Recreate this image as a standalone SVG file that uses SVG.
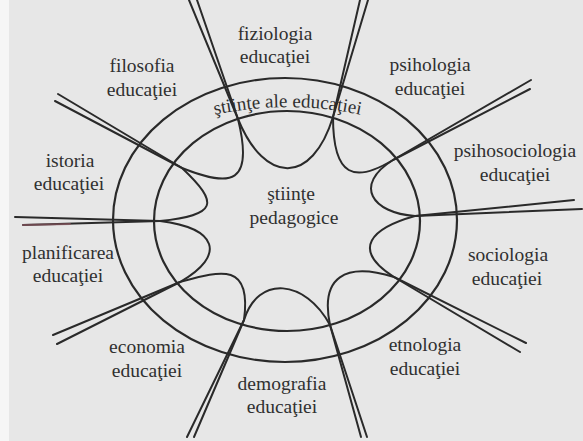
<svg xmlns="http://www.w3.org/2000/svg" width="583" height="441" viewBox="0 0 583 441">
<defs>
<style>
.bg{fill:#e7e7e7}
.ln{fill:none;stroke:#2a2a2a;stroke-width:2;stroke-linejoin:round;stroke-linecap:round}
.el{fill:none;stroke:#2a2a2a;stroke-width:2.2}
.t{font-family:"Liberation Serif","Times New Roman",serif;font-size:19.5px;fill:#303030;text-anchor:middle}
.ta{font-family:"Liberation Serif","Times New Roman",serif;font-size:19px;fill:#303030}
</style>
<path id="arcText" d="M190,121 A350,350 0 0 1 385,121"/>
</defs>
<rect class="bg" x="0" y="0" width="583" height="441"/>
<rect x="0" y="0" width="9" height="441" fill="#f6f6f6"/>

<g id="ring">
<ellipse class="el" cx="285" cy="220" rx="172" ry="142"/>
<ellipse class="el" cx="287" cy="221" rx="133" ry="110"/>
<text class="ta"><textPath href="#arcText" startOffset="50%" text-anchor="middle">ştiinţe ale educaţiei</textPath></text>
</g>

<g id="connectors">
<path class="ln" d="M189,0 L238,119 C265,185 312,185 333,117 L368,0"/>
<path class="ln" d="M360,0 L333,117 C333,178 355,183 393,160 L530,89"/>
<path class="ln" d="M531,80 L393,160 C353,185 372,213 415,216 L582,209"/>
<path class="ln" d="M574,200 L415,216 C372,228 350,249 394,277 L520,352"/>
<path class="ln" d="M526,343 L394,277 C345,262 320,277 330,325 L361,437"/>
<path class="ln" d="M367,437 L330,325 C305,279 258,275 244,320 L187,437"/>
<path class="ln" d="M194,437 L244,320 C252,261 220,271 180,282 L53,335"/>
<path class="ln" d="M57,344 L180,282 C227,255 217,228 160,221 L15,217"/>
<path class="ln" d="M23,225 L160,221 C217,215 220,204 182,168 L58,94"/>
<path class="ln" d="M55,101 L182,168 C232,188 254,184 238,119 L197,0"/>
<path d="M23,225 L70,224" fill="none" stroke="#8a5560" stroke-width="2" stroke-linecap="round" opacity="0.7"/>
</g>

<g id="center"><text class="t" x="291" y="200">ştiinţe</text><text class="t" x="294" y="224">pedagogice</text></g>
<g id="fiziologia"><text class="t" x="275" y="40">fiziologia</text><text class="t" x="275" y="63">educaţiei</text></g>
<g id="filosofia"><text class="t" x="142" y="72">filosofia</text><text class="t" x="142" y="96">educaţiei</text></g>
<g id="psihologia"><text class="t" x="430" y="71">psihologia</text><text class="t" x="430" y="95">educaţiei</text></g>
<g id="istoria"><text class="t" x="70" y="167">istoria</text><text class="t" x="69" y="190">educaţiei</text></g>
<g id="psihosociologia"><text class="t" x="515" y="157">psihosociologia</text><text class="t" x="515" y="181">educaţiei</text></g>
<g id="planificarea"><text class="t" x="68" y="259">planificarea</text><text class="t" x="68" y="282">educaţiei</text></g>
<g id="sociologia"><text class="t" x="508" y="261">sociologia</text><text class="t" x="507" y="285">educaţiei</text></g>
<g id="economia"><text class="t" x="147" y="353">economia</text><text class="t" x="147" y="377">educaţiei</text></g>
<g id="etnologia"><text class="t" x="425" y="351">etnologia</text><text class="t" x="425" y="375">educaţiei</text></g>
<g id="demografia"><text class="t" x="282" y="390">demografia</text><text class="t" x="282" y="413">educaţiei</text></g>
</svg>
